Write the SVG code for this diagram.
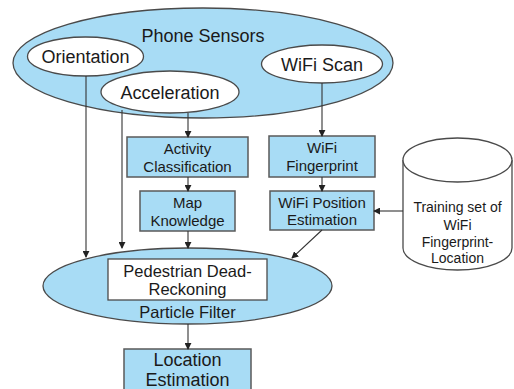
<svg xmlns="http://www.w3.org/2000/svg" width="514" height="389" viewBox="0 0 514 389">
<defs>
<style>
.blue{fill:#a8dcf5;stroke:#4a4a4a;stroke-width:1.3}
.white{fill:#ffffff;stroke:#4a4a4a;stroke-width:1.3}
.box{fill:#a8dcf5;stroke:#5a5a5a;stroke-width:1.5}
.t{font-family:"Liberation Sans",Arial,sans-serif;fill:#1a1a1a;text-anchor:middle}
.edge{stroke:#333;stroke-width:1.1;fill:none}
</style>
<marker id="arr" viewBox="0 0 8 8" refX="7" refY="4" markerWidth="7" markerHeight="7" markerUnits="userSpaceOnUse" orient="auto">
<path d="M0,0 L8,4 L0,8 z" fill="#222"/>
</marker>
</defs>
<rect width="514" height="389" fill="#fff"/>
<g id="phone-sensors">
<ellipse class="blue" cx="203" cy="63" rx="190" ry="55"/>
<text class="t" x="203" y="42" font-size="18">Phone Sensors</text>
</g>
<g id="orientation">
<ellipse class="white" cx="85.5" cy="56.5" rx="58" ry="19.5"/>
<text class="t" x="85.5" y="63" font-size="18">Orientation</text>
</g>
<g id="acceleration">
<ellipse class="white" cx="170" cy="92" rx="69" ry="21"/>
<text class="t" x="170" y="98.5" font-size="18">Acceleration</text>
</g>
<g id="wifi-scan">
<ellipse class="white" cx="322" cy="64" rx="60.5" ry="19"/>
<text class="t" x="322" y="70.5" font-size="18">WiFi Scan</text>
</g>
<g id="activity">
<rect class="box" x="127" y="137" width="121" height="40"/>
<text class="t" x="187.5" y="154" font-size="15">Activity</text>
<text class="t" x="187.5" y="171.5" font-size="15">Classification</text>
</g>
<g id="map">
<rect class="box" x="140" y="191" width="95" height="40"/>
<text class="t" x="187.5" y="208" font-size="15">Map</text>
<text class="t" x="187.5" y="225.5" font-size="15">Knowledge</text>
</g>
<g id="wifi-fingerprint">
<rect class="box" x="269" y="136" width="106" height="41"/>
<text class="t" x="322" y="153" font-size="15">WiFi</text>
<text class="t" x="322" y="170.5" font-size="15">Fingerprint</text>
</g>
<g id="wifi-position">
<rect class="box" x="270" y="191" width="104" height="39"/>
<text class="t" x="322" y="208" font-size="15">WiFi Position</text>
<text class="t" x="322" y="225" font-size="15">Estimation</text>
</g>
<g id="training-set">
<path class="white" d="M403,160 L403,248 A54.5,22 0 0 0 512,248 L512,160"/>
<ellipse class="white" cx="457.5" cy="160" rx="54.5" ry="22"/>
<text class="t" x="457.5" y="212" font-size="14">Training set of</text>
<text class="t" x="457.5" y="230" font-size="14">WiFi</text>
<text class="t" x="457.5" y="246.5" font-size="14">Fingerprint-</text>
<text class="t" x="457.5" y="263" font-size="14">Location</text>
</g>
<g id="particle-filter">
<ellipse class="blue" cx="187.5" cy="286" rx="144.5" ry="38"/>
<rect class="white" x="108" y="259" width="159" height="41"/>
<text class="t" x="187.5" y="276.5" font-size="16.5">Pedestrian Dead-</text>
<text class="t" x="187.5" y="295" font-size="16.5">Reckoning</text>
<text class="t" x="187.5" y="318" font-size="16.5">Particle Filter</text>
</g>
<g id="location">
<rect class="box" x="124" y="349" width="127" height="45"/>
<text class="t" x="187.5" y="365.5" font-size="18">Location</text>
<text class="t" x="187.5" y="385.5" font-size="18">Estimation</text>
</g>
<g id="connectors">
<line class="edge" x1="86" y1="76" x2="86" y2="257" marker-end="url(#arr)"/>
<line class="edge" x1="122" y1="110" x2="122" y2="248" marker-end="url(#arr)" stroke="#555" stroke-width="1.6"/>
<line class="edge" x1="188" y1="113" x2="188" y2="137" marker-end="url(#arr)"/>
<line class="edge" x1="188" y1="177" x2="188" y2="191" marker-end="url(#arr)"/>
<line class="edge" x1="188" y1="231" x2="188" y2="248" marker-end="url(#arr)"/>
<line class="edge" x1="322" y1="83" x2="322" y2="136" marker-end="url(#arr)"/>
<line class="edge" x1="322" y1="177" x2="322" y2="191" marker-end="url(#arr)"/>
<line class="edge" x1="403" y1="211" x2="374" y2="211" marker-end="url(#arr)"/>
<line class="edge" x1="322" y1="230" x2="292" y2="258" marker-end="url(#arr)"/>
<line class="edge" x1="188" y1="324" x2="188" y2="349" marker-end="url(#arr)"/>
</g>
</svg>
